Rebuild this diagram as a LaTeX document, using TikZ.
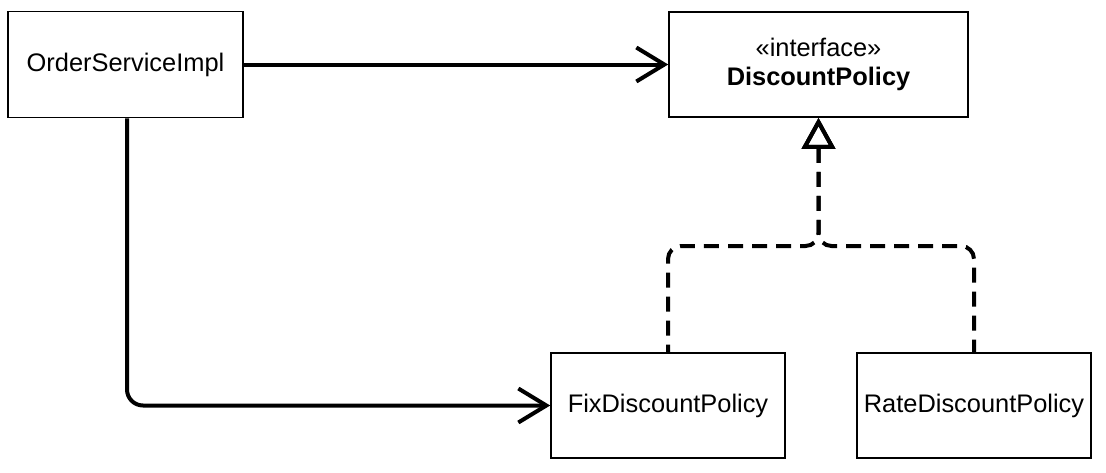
\documentclass[tikz,border=0pt]{standalone}
\usepackage{fontspec}
\setmainfont{Liberation Sans}
\usetikzlibrary{arrows.meta}
\begin{document}
\begin{tikzpicture}[x=1pt,y=-1pt,
  cls/.style={draw, line width=1.6pt, minimum height=105pt, inner sep=0pt, fill=white,
    font=\fontsize{25.4}{29}\selectfont},
  assoc/.style={line width=4pt, -{Straight Barb[length=28pt,width=34pt]}},
  realize/.style={line width=4pt, dash pattern=on 15pt off 9pt,
    {Triangle[open,length=31pt,width=33pt]}-, rounded corners=13pt}
]
\useasboundingbox (0,0) rectangle (1106,472);
\node[cls, minimum width=235pt, minimum height=106pt] (osi) at (125.5,64.5) {OrderServiceImpl};
\node[cls, minimum width=299pt, align=center] (dp) at (818.5,64.5) {«interface»\\\textbf{DiscountPolicy}};
\node[cls, minimum width=234pt] (fix) at (668,405.5) {FixDiscountPolicy};
\node[cls, minimum width=234pt] (rate) at (974,405.5) {RateDiscountPolicy};
\coordinate (j) at (818.5,246);
\draw[assoc] (osi) -- (dp);
\draw[assoc, rounded corners=16pt] ([xshift=1.5pt]osi.south) |- (fix);
\draw[realize] (dp.south) -- (j) -| (fix.north);
\draw[realize] (dp.south) -- (j) -| (rate.north);
\end{tikzpicture}
\end{document}
